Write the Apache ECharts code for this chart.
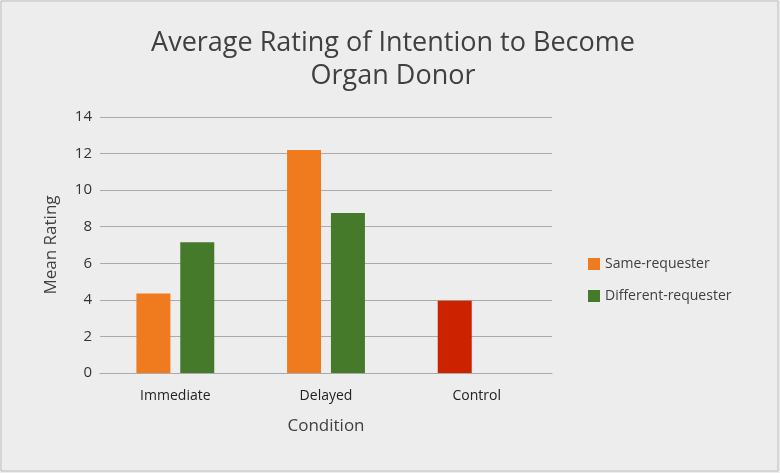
<!DOCTYPE html>
<html><head><meta charset="utf-8">
<script src="https://cdn.jsdelivr.net/npm/echarts@6/dist/echarts.min.js"></script>
<style>html,body{margin:0;padding:0;background:#fff}#c{width:780px;height:473px}</style>
</head><body><div id="c"></div>
<script>
const categories = ['Immediate', 'Delayed', 'Control'];
const sameRequester = [4.35, 12.2, 3.95];
const differentRequester = [7.15, 8.75, null];
const yTicks = [0, 2, 4, 6, 8, 10, 12, 14];

const chart = echarts.init(document.getElementById('c'));
chart.setOption({
  backgroundColor: '#ededed',
  animation: false,
  graphic: [{type:'rect', shape:{x:1,y:1,width:777,height:470}, style:{fill:'none', stroke:'#bdbdbd', lineWidth:1}}],
  title: {text: 'Average Rating of Intention to Become\nOrgan Donor', left: 388, top: 22, textAlign: 'center',
    textStyle: {fontFamily: 'Open Sans', fontWeight: 'normal', fontSize: 27, color: '#404040', lineHeight: 33}},
  legend: {orient: 'vertical', left: 583, top: 252, itemGap: 18, itemWidth: 12, itemHeight: 12, icon: 'rect',
    textStyle: {fontFamily: 'Open Sans', fontSize: 14, color: '#404040'},
    data: ['Same-requester', 'Different-requester']},
  grid: {left: 100, top: 117, width: 452, height: 256},
  xAxis: {type: 'category', data: categories, name: 'Condition', nameLocation: 'middle', nameGap: 45,
    nameTextStyle: {fontFamily: 'Open Sans', fontSize: 17, color: '#404040'},
    axisLine: {lineStyle: {color: '#aaaaaa'}}, axisTick: {show: false},
    axisLabel: {fontFamily: 'Open Sans', fontSize: 14, color: '#222', margin: 16}},
  yAxis: {type: 'value', min: 0, max: 14, interval: 2, name: 'Mean Rating', nameLocation: 'middle', nameGap: 40,
    nameTextStyle: {fontFamily: 'Open Sans', fontSize: 17, color: '#404040'},
    axisLabel: {fontFamily: 'Open Sans', fontSize: 15, color: '#333', formatter: v => yTicks.includes(v) ? String(v) : ''},
    splitLine: {lineStyle: {color: '#aaaaaa'}}},
  series: [
    {name: 'Same-requester', type: 'bar', barWidth: 34, barGap: '29%', itemStyle: {color: '#f07b1e'},
     data: sameRequester.map((v, i) => i === 2 ? {value: v, itemStyle: {color: '#cc2200'}} : v)},
    {name: 'Different-requester', type: 'bar', barWidth: 34, itemStyle: {color: '#457a2b'}, data: differentRequester}
  ]
});
</script></body></html>
